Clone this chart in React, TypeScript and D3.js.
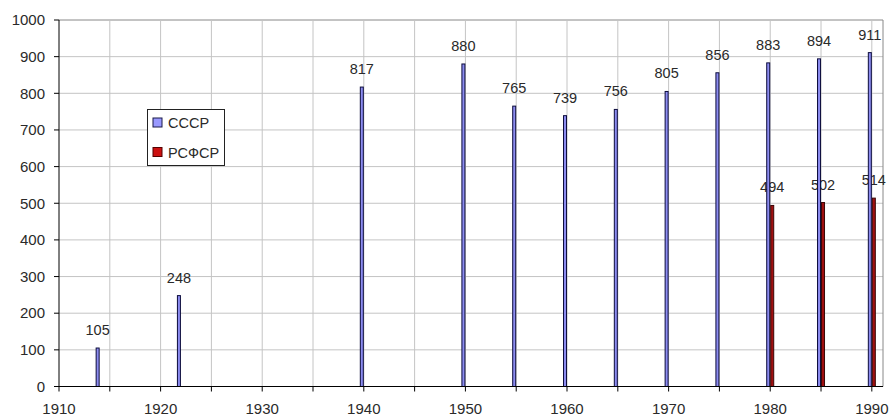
import React from "react";
import * as d3 from "d3";

const years = [1914, 1922, 1940, 1950, 1955, 1960, 1965, 1970, 1975, 1980, 1985, 1990];
const ussr = [105, 248, 817, 880, 765, 739, 756, 805, 856, 883, 894, 911];
const rsfsrYears = [1980, 1985, 1990];
const rsfsr = [494, 502, 514];
const seriesNames = ["СССР", "РСФСР"];
const yTicks = [0, 100, 200, 300, 400, 500, 600, 700, 800, 900, 1000];
const xTicks = [1910, 1915, 1920, 1925, 1930, 1935, 1940, 1945, 1950, 1955, 1960, 1965, 1970, 1975, 1980, 1985, 1990];
const xLabels = [1910, 1920, 1930, 1940, 1950, 1960, 1970, 1980, 1990];

const W = 892, H = 417;
const left = 59, right = 883, top = 20, bottom = 386.5;
const font = "Arial, 'Liberation Sans', sans-serif";

export default function App() {
  const x = d3.scaleLinear().domain([1910, 1991.1]).range([left, right]);
  const y = d3.scaleLinear().domain([0, 1000]).range([bottom, top]);
  const bw = 4;
  return (
    <svg width={W} height={H} style={{ position: "absolute", left: 0, top: 0, background: "#fff" }}>
      <rect x={0} y={0} width={W} height={H} fill="#fff" />
      {yTicks.filter(t => t > 0).map(t => (
        <line key={"gy" + t} x1={left} x2={right} y1={y(t)} y2={y(t)} stroke={t === 1000 ? "#888" : "#c4c4c4"} strokeWidth={1} />
      ))}
      {xTicks.filter(t => t > 1910).map(t => (
        <line key={"gx" + t} x1={x(t)} x2={x(t)} y1={top} y2={bottom} stroke="#c4c4c4" strokeWidth={1} />
      ))}
      <line x1={right} x2={right} y1={top} y2={bottom} stroke="#888" />
      {rsfsrYears.map((yr, i) => (
        <text key={"rl" + yr} x={x(yr) + 2} y={y(rsfsr[i]) - 13} textAnchor="middle" fontFamily={font} fontSize={14.5} fill="#2a2a2a">{rsfsr[i]}</text>
      ))}
      {years.map((yr, i) => (
        <rect key={"b" + yr} x={x(yr) - bw + 0.5} y={y(ussr[i])} width={bw - 1} height={bottom - y(ussr[i])} fill="#8c8cf0" stroke="#0c0c3c" strokeWidth={1} />
      ))}
      {rsfsrYears.map((yr, i) => (
        <rect key={"r" + yr} x={x(yr) + 0.5} y={y(rsfsr[i])} width={bw - 1} height={bottom - y(rsfsr[i])} fill="#a01010" stroke="#3a0606" strokeWidth={1} />
      ))}
      {years.map((yr, i) => (
        <text key={"ul" + yr} x={x(yr) - 2} y={y(ussr[i]) - 13} textAnchor="middle" fontFamily={font} fontSize={14.5} fill="#2a2a2a">{ussr[i]}</text>
      ))}
      <line x1={left} x2={left} y1={top} y2={bottom} stroke="#000" />
      <line x1={left} x2={right} y1={bottom} y2={bottom} stroke="#000" />
      {yTicks.map(t => (
        <g key={"yt" + t}>
          <line x1={left - 5} x2={left} y1={y(t)} y2={y(t)} stroke="#000" />
          <text x={45} y={y(t)} dy="0.35em" textAnchor="end" fontFamily={font} fontSize={15} fill="#2a2a2a">{t}</text>
        </g>
      ))}
      {xTicks.map(t => (
        <line key={"xt" + t} x1={x(t)} x2={x(t)} y1={bottom} y2={bottom + 5} stroke="#000" />
      ))}
      {xLabels.map(t => (
        <text key={"xl" + t} x={x(t)} y={414} textAnchor="middle" fontFamily={font} fontSize={15} fill="#2a2a2a">{t}</text>
      ))}
      <g>
        <rect x={147.5} y={109.5} width={77} height={56} fill="#fff" stroke="#222" />
        <rect x={153} y={118} width={9} height={9} fill="#9999ff" stroke="#1a1a4a" />
        <text x={168} y={128} fontFamily={font} fontSize={14.5} fill="#2a2a2a">{seriesNames[0]}</text>
        <rect x={153} y={147.5} width={9} height={9} fill="#cc1010" stroke="#500" />
        <text x={168} y={157.5} fontFamily={font} fontSize={14.5} fill="#2a2a2a">{seriesNames[1]}</text>
      </g>
    </svg>
  );
}
